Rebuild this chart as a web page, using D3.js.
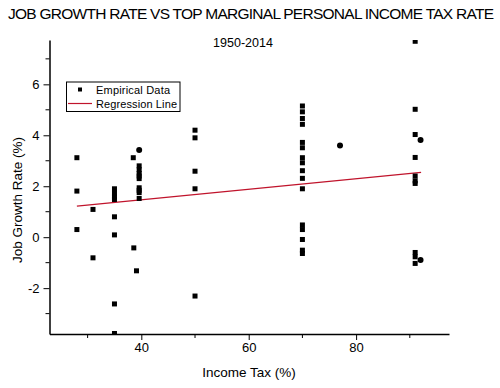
<!DOCTYPE html>
<html>
<head>
<meta charset="utf-8">
<script src="https://cdn.jsdelivr.net/npm/d3@7"></script>
<style>
  body { margin: 0; background: #fff; }
  text { font-family: "Liberation Sans", Arial, sans-serif; fill: #000; }
</style>
</head>
<body>
<div id="chart"></div>
<script>
// top marginal rate (%) and job growth (%)
const taxRate = [
  28, 28, 28,
  31, 31,
  35, 35, 35, 35, 35, 35, 35, 35,
  38.5, 38.6, 39.1,
  39.6, 39.6, 39.6, 39.6, 39.6, 39.6, 39.6, 39.6, 39.6,
  50, 50, 50, 50, 50,
  70, 70, 70, 70, 70, 70, 70, 70, 70, 70, 70, 70, 70, 70, 70, 70,
  91, 91, 91, 91, 91, 91, 91, 91, 91, 91
];
const jobGrowth = [
  3.12, 1.81, 0.30,
  1.09, -0.81,
  1.90, 1.72, 1.58, 1.48, 0.80, 0.09, -2.62, -3.78,
  3.12, -0.42, -1.32,
  2.80, 2.65, 2.50, 2.40, 2.30, 1.94, 1.84, 1.75, 1.52,
  4.20, 3.90, 2.59, 1.90, -2.31,
  5.15, 4.92, 4.66, 4.43, 3.72, 3.51, 3.12, 2.92, 2.61, 2.31, 1.90, 0.48, 0.30, -0.09, -0.51, -0.64,
  7.69, 5.02, 4.03, 3.13, 2.40, 2.21, 2.11, -0.60, -0.77, -1.03
];
// points that render as round dots in the original
const roundTax = [39.6, 77, 92, 92];
const roundGrowth = [3.42, 3.60, 3.81, -0.90];

// regression line end points
const regTax = [28, 92.1];
const regGrowth = [1.22, 2.54];

const xMajor = [40, 60, 80];
const xMinor = [30, 50, 70, 90];
const yMajor = [-2, 0, 2, 4, 6];
const yMinor = [-3, -1, 1, 3, 5, 7];

const W = 500, H = 388;
const mLeft = 49.5, mRight = 449, mTop = 40, mBottom = 334;

const svg = d3.select("#chart").append("svg")
  .attr("width", W).attr("height", H);

const x = d3.scaleLinear().domain([22.9, 97.3]).range([mLeft, mRight]);
const y = d3.scaleLinear().domain([-3.8, 7.74]).range([mBottom, mTop]);

svg.append("clipPath").attr("id", "plot")
  .append("rect")
  .attr("x", mLeft).attr("y", mTop)
  .attr("width", mRight - mLeft).attr("height", mBottom - mTop);

// title
svg.append("text")
  .attr("x", 251).attr("y", 19)
  .attr("text-anchor", "middle")
  .attr("textLength", 486)
  .style("font-size", "15.5px")
  .text("JOB GROWTH RATE VS TOP MARGINAL PERSONAL INCOME TAX RATE");

svg.append("text")
  .attr("x", 243).attr("y", 47)
  .attr("text-anchor", "middle")
  .style("font-size", "12.5px")
  .text("1950-2014");

const plot = svg.append("g").attr("clip-path", "url(#plot)");

// regression line
plot.append("path")
  .datum(regTax.map((t, i) => [t, regGrowth[i]]))
  .attr("d", d3.line().x(d => x(d[0])).y(d => y(d[1])))
  .attr("stroke", "#c0142c")
  .attr("stroke-width", 1.3)
  .attr("fill", "none");

// points
const sq = 5;
plot.selectAll("rect.pt")
  .data(taxRate.map((t, i) => [t, jobGrowth[i]]))
  .join("rect")
  .attr("class", "pt")
  .attr("x", d => x(d[0]) - sq / 2)
  .attr("y", d => y(d[1]) - sq / 2)
  .attr("width", sq).attr("height", sq)
  .attr("fill", "#000");

plot.selectAll("circle.pt")
  .data(roundTax.map((t, i) => [t, roundGrowth[i]]))
  .join("circle")
  .attr("class", "pt")
  .attr("cx", d => x(d[0]))
  .attr("cy", d => y(d[1]))
  .attr("r", 3)
  .attr("fill", "#000");

// axes
const xAxis = svg.append("g")
  .attr("transform", `translate(0,${mBottom})`)
  .call(d3.axisBottom(x).tickValues(xMajor).tickSize(6).tickSizeOuter(0).tickPadding(3));
xAxis.append("g").selectAll("line")
  .data(xMinor).join("line")
  .attr("x1", d => x(d)).attr("x2", d => x(d))
  .attr("y1", 0).attr("y2", 4)
  .attr("stroke", "#000");

const yAxis = svg.append("g")
  .attr("transform", `translate(${mLeft},0)`)
  .call(d3.axisLeft(y).tickValues(yMajor).tickSize(6).tickSizeOuter(0).tickPadding(4));
yAxis.append("g").selectAll("line")
  .data(yMinor).join("line")
  .attr("x1", 0).attr("x2", -4)
  .attr("y1", d => y(d)).attr("y2", d => y(d))
  .attr("stroke", "#000");

[xAxis, yAxis].forEach(a => {
  a.select(".domain").attr("stroke", "#000").attr("stroke-width", 1.5);
  a.selectAll(".tick line").attr("stroke", "#000");
  a.selectAll(".tick text")
    .style("font-size", "13px")
    .style("font-family", "'Liberation Sans', Arial, sans-serif")
    .attr("fill", "#000");
});
yAxis.selectAll(".tick text").text(d => d < 0 ? "-" + Math.abs(d) : d);

// axis titles
svg.append("text")
  .attr("x", 249).attr("y", 377)
  .attr("text-anchor", "middle")
  .style("font-size", "13.5px")
  .text("Income Tax (%)");

svg.append("text")
  .attr("transform", "translate(22,200) rotate(-90)")
  .attr("text-anchor", "middle")
  .style("font-size", "13.5px")
  .text("Job Growth Rate (%)");

// legend
const lg = svg.append("g");
lg.append("rect")
  .attr("x", 66.5).attr("y", 82)
  .attr("width", 113.5).attr("height", 29.5)
  .attr("fill", "#fff").attr("stroke", "#000").attr("stroke-width", 1);
lg.append("rect")
  .attr("x", 78).attr("y", 87.5).attr("width", 4).attr("height", 4)
  .attr("fill", "#000");
lg.append("line")
  .attr("x1", 68).attr("x2", 92).attr("y1", 103.5).attr("y2", 103.5)
  .attr("stroke", "#c0142c").attr("stroke-width", 1.2);
lg.append("text")
  .attr("x", 96).attr("y", 93.5)
  .attr("textLength", 74).attr("lengthAdjust", "spacing")
  .style("font-size", "11px")
  .text("Empirical Data");
lg.append("text")
  .attr("x", 96).attr("y", 107.5)
  .attr("textLength", 81).attr("lengthAdjust", "spacing")
  .style("font-size", "11px")
  .text("Regression Line");
</script>
</body>
</html>
